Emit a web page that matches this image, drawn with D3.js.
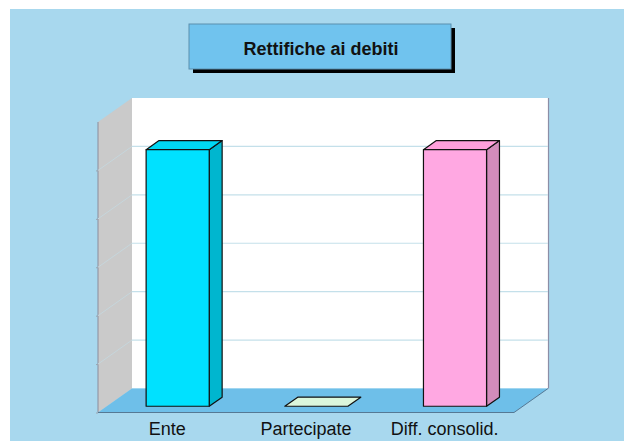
<!DOCTYPE html>
<html>
<head>
<meta charset="utf-8">
<script src="https://cdn.jsdelivr.net/npm/d3@7"></script>
<style>
  html, body { margin: 0; padding: 0; background: #ffffff; }
  svg { display: block; }
</style>
</head>
<body>
<svg id="chart" width="624" height="441"></svg>
<script>
// Chart data
const title = "Rettifiche ai debiti";
const categories = ["Ente", "Partecipate", "Diff. consolid."];
const values = [530, 0, 530];
const yTicks = [0, 100, 200, 300, 400, 500, 600];
const frontColors = ["#00e1ff", "#dcf7dc", "#ffa8e2"];
const sideColors  = ["#00b6cf", "#b8d8b8", "#d28cbb"];
const topColors   = ["#00d8f4", "#dcf7dc", "#ffa0dc"];

const svg = d3.select("#chart");

// Panel background
svg.append("rect").attr("x", 10).attr("y", 9).attr("width", 614).attr("height", 432)
  .attr("fill", "#a8d8ee");

// 3D box geometry
const depthX = 34, depthY = 24;           // offset from front plane to back wall
const x = d3.scaleBand().domain(categories).range([98, 514]);   // front floor edge
const y = d3.scaleLinear().domain([0, 600]).range([388.5, 98]); // back wall

// project (screen x on front plane, value, depth 0=front .. 1=back)
const P = (sx, v, d) => [sx + d * depthX, y(v) + (1 - d) * depthY];
const poly = pts => "M" + pts.map(p => p.join(",")).join("L") + "Z";

const x0 = x.range()[0], x1 = x.range()[1];
const vMax = y.domain()[1];

// back wall
svg.append("path")
  .attr("d", poly([P(x0, 0, 1), P(x1, 0, 1), P(x1, vMax, 1), P(x0, vMax, 1)]))
  .attr("fill", "#ffffff");
// back wall right edge shade
svg.append("line")
  .attr("x1", P(x1, 0, 1)[0] + 0.5).attr("y1", P(x1, 0, 1)[1])
  .attr("x2", P(x1, vMax, 1)[0] + 0.5).attr("y2", P(x1, vMax, 1)[1])
  .attr("stroke", "#8c8ea6").attr("stroke-width", 1.2);

// left wall
svg.append("path")
  .attr("d", poly([P(x0, 0, 0), P(x0, 0, 1), P(x0, vMax, 1), P(x0, vMax, 0)]))
  .attr("fill", "#cacaca");
svg.append("line")
  .attr("x1", P(x0, 0, 0)[0]).attr("y1", P(x0, 0, 0)[1])
  .attr("x2", P(x0, vMax, 0)[0]).attr("y2", P(x0, vMax, 0)[1])
  .attr("stroke", "#8a8c9c").attr("stroke-width", 1);

// floor
svg.append("path")
  .attr("d", poly([P(x0, 0, 0), P(x1, 0, 0), P(x1, 0, 1), P(x0, 0, 1)]))
  .attr("fill", "#6ebfe9");
svg.append("path")
  .attr("d", "M" + [P(x0, 0, 0), P(x1, 0, 0), P(x1, 0, 1)].map(p => p.join(",")).join("L"))
  .attr("fill", "none").attr("stroke", "#4f6f8a").attr("stroke-width", 0.9);

// gridlines on back wall, fainter on the left wall
const grid = yTicks.filter(t => t > 0 && t < vMax);
svg.append("g").selectAll("path").data(grid).join("path")
  .attr("d", t => "M" + [P(x0, t, 1), P(x1, t, 1)].map(p => p.join(",")).join("L"))
  .attr("fill", "none")
  .attr("stroke", "#c4e0ea").attr("stroke-width", 1.2);
svg.append("g").selectAll("path").data(grid).join("path")
  .attr("d", t => "M" + [P(x0, t, 0), P(x0, t, 1)].map(p => p.join(",")).join("L"))
  .attr("fill", "none")
  .attr("stroke", "#c6d6dc").attr("stroke-width", 1);

// value axis ticks on the front edge of the left wall (no labels)
const yFront = d3.scaleLinear().domain(y.domain()).range(y.range().map(r => r + depthY));
svg.append("g")
  .attr("transform", `translate(${x0},0)`)
  .call(d3.axisLeft(yFront).tickValues(yTicks.filter(t => t < vMax)).tickSize(2).tickFormat(""))
  .call(g => g.select(".domain").remove())
  .call(g => g.selectAll("line").attr("stroke", "#9aa4b0"));

// bars
const bw = x.bandwidth() * 0.455;
const d0 = 0.26, d1 = 0.64;
const bars = svg.append("g");
categories.forEach((c, i) => {
  const v = values[i];
  const L = x(c) + (x.bandwidth() - bw) / 2 + 1.5, R = L + bw;
  const g = bars.append("g").attr("stroke", "#111").attr("stroke-width", 1.2)
    .attr("stroke-linejoin", "round");
  if (v > 0) {
    g.append("path").attr("d", poly([P(R, 0, d0), P(R, 0, d1), P(R, v, d1), P(R, v, d0)]))
      .attr("fill", sideColors[i]);
    g.append("path").attr("d", poly([P(L, v, d0), P(R, v, d0), P(R, v, d1), P(L, v, d1)]))
      .attr("fill", topColors[i]);
    g.append("path").attr("d", poly([P(L, 0, d0), P(R, 0, d0), P(R, v, d0), P(L, v, d0)]))
      .attr("fill", frontColors[i]);
  } else {
    g.append("path").attr("d", poly([P(L, 0, d0), P(R, 0, d0), P(R, 0, d1), P(L, 0, d1)]))
      .attr("fill", topColors[i]);
  }
});

// category labels
svg.append("g").selectAll("text").data(categories).join("text")
  .attr("x", c => x(c) + x.bandwidth() / 2)
  .attr("y", 434.5)
  .attr("text-anchor", "middle")
  .attr("font-family", "Arial, 'Liberation Sans', sans-serif")
  .attr("font-size", 18)
  .attr("fill", "#111")
  .text(c => c);

// title box with drop shadow
const tb = { x: 189, y: 24, w: 262, h: 45 };
svg.append("rect").attr("x", tb.x + 4).attr("y", tb.y + 4).attr("width", tb.w).attr("height", tb.h)
  .attr("fill", "#000");
svg.append("rect").attr("x", tb.x).attr("y", tb.y).attr("width", tb.w).attr("height", tb.h)
  .attr("fill", "#70c3ee").attr("stroke", "#5b8fae").attr("stroke-width", 1);
svg.append("text")
  .attr("x", tb.x + tb.w / 2 + 1).attr("y", 55)
  .attr("text-anchor", "middle")
  .attr("font-family", "Arial, 'Liberation Sans', sans-serif")
  .attr("font-weight", "bold").attr("font-size", 18)
  .attr("fill", "#111")
  .text(title);
</script>
</body>
</html>
